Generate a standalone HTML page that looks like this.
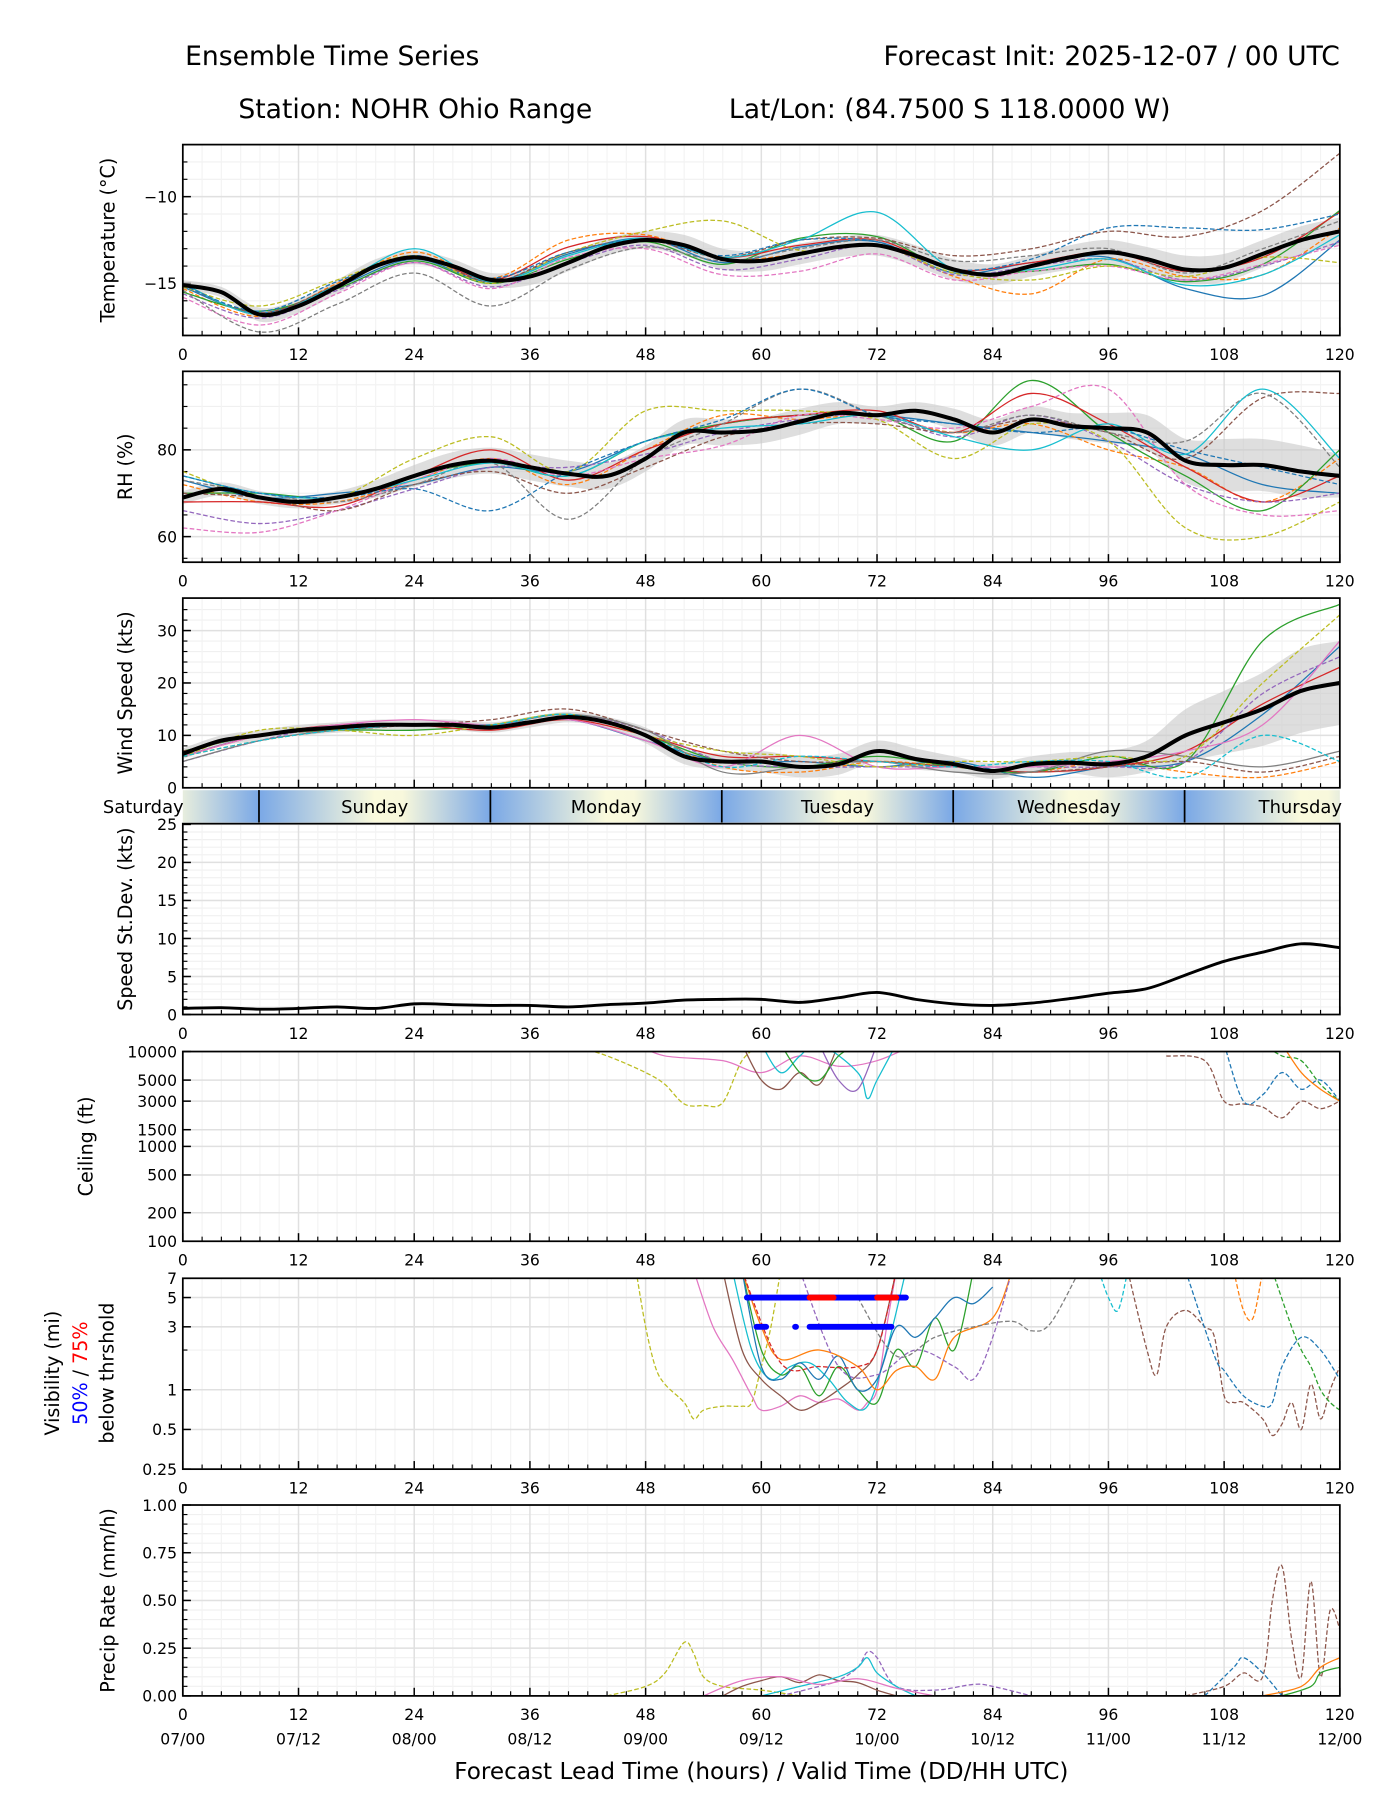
<!DOCTYPE html>
<html><head><meta charset="utf-8">
<style>
html,body{margin:0;padding:0;background:#fff;}
svg{display:block;font-family:"DejaVu Sans","Liberation Sans",sans-serif;}
</style></head>
<body>
<svg id="chart" xmlns="http://www.w3.org/2000/svg" width="1400" height="1800" viewBox="0 0 1210 1556" preserveAspectRatio="none">
<text x="160" y="56" font-size="23">Ensemble Time Series</text>
<text x="1158" y="56" font-size="23" text-anchor="end">Forecast Init: 2025-12-07 / 00 UTC</text>
<text x="206" y="102" font-size="23">Station: NOHR Ohio Range</text>
<text x="630" y="102" font-size="23">Lat/Lon: (84.7500 S 118.0000 W)</text>
<text x="658" y="1538" font-size="20" text-anchor="middle">Forecast Lead Time (hours) / Valid Time (DD/HH UTC)</text>
</svg>
<script>
// ---------- DATA ----------
const meanHours = [0,4,8,12,16,20,24,28,32,36,40,44,48,52,56,60,64,68,72,76,80,84,88,92,96,100,104,108,112,116,120];
const memHours = [0,8,16,24,32,40,48,56,64,72,80,88,96,104,112,120];

const tempMean = [-15.1,-15.5,-16.8,-16.3,-15.2,-14.0,-13.5,-14.0,-14.8,-14.6,-13.8,-12.9,-12.5,-12.8,-13.6,-13.7,-13.3,-12.9,-12.8,-13.4,-14.2,-14.5,-14.0,-13.5,-13.2,-13.6,-14.2,-14.1,-13.3,-12.5,-12.0];
const tempSpread = [0.3,0.3,0.4,0.4,0.4,0.4,0.4,0.4,0.4,0.5,0.5,0.5,0.5,0.6,0.6,0.6,0.6,0.6,0.6,0.6,0.6,0.6,0.6,0.7,0.7,0.7,0.8,0.8,0.8,0.8,0.8];
const tempM1 = [-15.2,-16.7,-15.2,-13.6,-14.9,-13.3,-12.4,-13.8,-12.9,-12.6,-14.4,-13.8,-13.5,-15.3,-15.7,-12.5];
const tempM2 = [-15.3,-16.9,-15.0,-13.2,-14.7,-12.5,-12.2,-13.6,-13.3,-12.8,-14.6,-15.6,-13.6,-14.6,-14.5,-11.8];
const tempM3 = [-15.5,-16.6,-15.3,-13.7,-15.0,-13.6,-12.6,-13.9,-12.4,-12.3,-14.3,-14.3,-13.9,-14.9,-13.9,-10.8];
const tempM4 = [-15.0,-16.8,-15.1,-13.4,-14.8,-12.9,-12.3,-13.5,-12.8,-12.5,-14.2,-13.8,-13.2,-14.3,-13.5,-10.9];
const tempM5 = [-15.6,-17.0,-15.4,-13.8,-15.2,-13.8,-12.8,-14.2,-13.6,-12.8,-14.5,-14.0,-13.6,-14.8,-14.0,-12.6];
const tempM6 = [-15.1,-16.7,-15.1,-13.4,-14.9,-13.2,-12.5,-13.5,-12.5,-12.4,-13.4,-13.0,-12.0,-12.3,-10.8,-7.5];
const tempM7 = [-15.8,-17.4,-15.6,-13.8,-15.3,-13.5,-13.0,-14.5,-14.3,-13.3,-14.8,-14.3,-14.0,-14.8,-13.9,-12.8];
const tempM8 = [-15.4,-17.8,-16.2,-14.4,-16.3,-14.2,-12.9,-13.7,-13.0,-12.5,-13.7,-13.4,-13.0,-14.4,-13.0,-11.4];
const tempM9 = [-15.2,-16.3,-14.8,-13.4,-15.0,-13.2,-12.0,-11.4,-13.1,-12.8,-14.4,-14.8,-14.0,-14.6,-13.5,-13.8];
const tempM10 = [-15.0,-16.8,-15.1,-13.0,-14.9,-13.4,-12.4,-13.5,-12.5,-10.9,-14.2,-14.2,-13.6,-15.1,-14.5,-12.2];
const tempM11 = [-15.1,-16.6,-14.9,-13.4,-14.7,-13.2,-12.5,-13.4,-12.5,-12.6,-14.2,-13.6,-11.8,-11.8,-11.9,-11.0];

const rhMean = [69,71,69,68,69,71,74,76.5,77.5,76,74.5,74,78,84,84,84.5,86.5,88.5,88,89,87,84,87,85.5,85,84,77.5,76.5,76.5,75,74];
const rhSpread = [1.5,1.5,1.5,1.5,1.5,2,2.5,3,3,3,3,3,3,3,3,3,3,2.5,2,2,2.5,3,3,3,3.5,4,5,6,6,6,5];
const rhM1 = [73,69,70,72,76,75,82,86,88,88,86,84,82,79,72,70];
const rhM2 = [72,68,68,73,78,72,80,88,87,88,84,86,80,76,68,78];
const rhM3 = [70,70,69,74,77,74,82,86,88,88,82,96,84,74,66,80];
const rhM4 = [68,68,67,74,80,73,80,86,88,89,84,93,86,76,68,74];
const rhM5 = [66,63,66,71,76,76,79,84,87,88,83,88,82,72,68,70];
const rhM6 = [70,69,66,72,75,70,76,83,86,86,84,87,84,78,92,93];
const rhM7 = [62,61,66,73,78,74,78,81,88,87,85,90,94,72,65,66];
const rhM8 = [73,70,68,72,77,64,78,86,94,88,84,88,84,82,93,76];
const rhM9 = [75,69,69,78,83,75,89,89,89,87,78,86,82,62,60,68];
const rhM10 = [74,70,69,73,77,74,82,85,86,88,83,80,86,79,94,78];
const rhM11 = [74,70,69,71,66,75,82,87,94,88,86,84,85,80,76,72];

const windMean = [6.5,9,10,11,11.5,12,12,12,11.5,12.5,13.5,12.5,10,6,5,5,4,4.5,7,5.5,4.5,3.2,4.5,4.8,4.5,6,10,12.5,15,18.5,20];
const windSpread = [1,1,1,1,1,1,1,1,1,1,1,1,1.5,1.5,1.5,2,2,2,2,2,1.5,1.5,1.5,2,2.5,3,5,6,7,8,8];
const windM1 = [6,10,11,12,12,13,9,5,5,4,5,2,4,5,14,27];
const windM2 = [6,9,11,12,12,14,10,4,3,5,4,3,5,3,2,5];
const windM3 = [7,10,11,11,12,14,10,5,4,6,4,3,6,5,28,35];
const windM4 = [6,10,12,12,11,13,10,6,6,5,4,3,4,7,16,23];
const windM5 = [5,9,12,12,12,14,11,5,4,4,4,4,4,5,18,25];
const windM6 = [7,10,11,12,13,15,11,7,5,5,4,3,4,5,3,6];
const windM7 = [6,10,12,13,12,13,9,4,10,4,4,4,5,7,12,28];
const windM8 = [5,9,11,12,12,14,11,3,4,5,3,3,7,6,4,7];
const windM9 = [6,11,11,10,12,14,10,7,6,4,5,5,6,6,20,33];
const windM10 = [6,9,11,12,12,14,10,4,6,5,4,5,5,2,10,5];

const sdValues = [0.8,0.9,0.7,0.8,1.0,0.8,1.4,1.3,1.2,1.2,1.0,1.3,1.5,1.9,2.0,2.0,1.6,2.2,2.9,2.0,1.4,1.2,1.5,2.1,2.8,3.4,5.2,7.0,8.2,9.3,8.8];

const ceilC1H=[40,44,48,50,52,54,56,58,60], ceilC1V=[12000,9000,6000,4500,2800,2700,2900,8000,12000];
const ceilC2H=[47,50,56,60,64,68,72,76], ceilC2V=[12000,9000,8000,6000,9000,7000,8000,12000];
const ceilC3H=[58,60,62,64,66,68], ceilC3V=[12000,5000,4000,6000,4500,12000];
const ceilC4H=[60,62,64,66,70,71,72,74], ceilC4V=[12000,6000,9000,12000,6000,3200,5000,12000];
const ceilC5H=[62,64,66,68,70], ceilC5V=[12000,6000,5000,9000,12000];
const ceilC6H=[66,68,70,72], ceilC6V=[12000,5000,4000,12000];
const ceilC7H=[102,106,108,110,112,114,116,118,120], ceilC7V=[9000,8000,3000,2800,2600,2000,3000,2500,3000];
const ceilC8H=[108,110,112,114,116,118,120], ceilC8V=[12000,3000,3500,6000,4000,5000,3000];
const ceilC9H=[112,114,116,118,120], ceilC9V=[12000,9000,8000,4500,3000];
const ceilC10H=[114,116,118,120], ceilC10V=[12000,6000,4000,3000];

const visV1H=[47,48,49,50,52,53,54,56,58,59,60,61,62], visV1V=[8,3,1.5,1.1,0.8,0.6,0.7,0.75,0.75,0.8,1.5,3,8];
const visV2H=[53,55,57,59,60,62,64,66,68,70,71,72,73,74], visV2V=[8,3,1.7,0.9,0.7,0.75,0.9,0.8,0.85,0.7,0.8,1,3,8];
const visV3H=[56,58,60,62,64,66,68,70,72,74], visV3V=[8,2,1.2,0.9,0.7,0.8,1,1.3,2,8];
const visV4H=[57,59,61,63,65,67,69,71,73,75], visV4V=[8,2,1.2,1.5,1.6,1.2,0.8,0.75,2,8];
const visV5H=[58,60,62,64,66,68,70,72,74,76,78,80,82], visV5V=[8,2,1.3,1.5,0.9,1.5,1,0.8,2,1.5,3.5,2,8];
const visV6H=[58,60,62,64,66,68,70,72,74,76,78,80,82,84], visV6V=[8,1.5,1.2,1.6,1.2,1.8,1,1.2,3,2.5,3.5,5,4.5,6];
const visV7H=[58,60,62,66,70,72,74,76,78,80,84,86], visV7V=[8,3,1.7,2,1.5,1,1.4,1.5,1.2,2.5,3.5,8];
const visV8H=[64,68,72,76,80,82,84,86], visV8V=[8,1.5,1.3,2,1.5,1.2,2.5,8];
const visV9H=[70,74,78,82,86,88,90,93], visV9V=[5,1.8,2.5,3,3.3,2.8,3.2,8];
const visV10H=[58,62,66,70,72,74], visV10V=[8,1.6,1.5,1.5,2,8];
const visV11H=[98,100,101,102,104,106,107,108,109,110,112,113,114,115,116,117,118,119,120], visV11V=[8,2,1.3,3,4,3,2.5,0.9,0.8,0.8,0.6,0.45,0.55,0.8,0.5,1.1,0.6,1,1.5];
const visV12H=[104,107,108,110,112,113,114,116,118,120], visV12V=[8,1.8,1.4,0.9,0.75,0.8,1.5,2.5,2,1.2];
const visV13H=[95,96,97,98], visV13V=[8,5,4,8];
const visV14H=[109,110,111,112], visV14V=[8,4,3.5,8];
const visV15H=[113,115,116,117,118,119,120], visV15V=[8,3,2,1.5,1,0.8,0.7];
const thr5Blue = [[58.5,75]];
const thr5Red = [[65,67.5],[72,74]];
const thr3Blue = [[59.5,60.5],[63.5,63.6],[65,73.5]];

const prP1H=[44,48,50,52,53,54,56,60,64], prP1V=[0,0.05,0.12,0.28,0.22,0.1,0.05,0.03,0];
const prP2H=[56,58,60,62,64,66,68,70,72,74], prP2V=[0,0.05,0.08,0.1,0.07,0.11,0.08,0.07,0.03,0];
const prP3H=[62,66,68,70,71,72,74,78,82,84,88], prP3V=[0,0.05,0.08,0.15,0.23,0.2,0.05,0.03,0.06,0.05,0];
const prP4H=[60,64,68,70,71,72,74,76], prP4V=[0,0.05,0.1,0.15,0.2,0.12,0.05,0];
const prP5H=[54,58,62,66,70,74,78], prP5V=[0,0.08,0.1,0.06,0.09,0.04,0];
const prP6H=[104,108,110,112,113,114,115,116,117,118,119,120], prP6V=[0,0.05,0.12,0.1,0.5,0.68,0.3,0.1,0.6,0.1,0.45,0.35];
const prP7H=[106,109,110,112,114], prP7V=[0,0.15,0.2,0.12,0];
const prP8H=[114,117,118,120], prP8V=[0,0.05,0.12,0.15];
const prP9H=[112,116,118,120], prP9V=[0,0.05,0.15,0.2];

const dayNames = ["Saturday","Sunday","Monday","Tuesday","Wednesday","Thursday"];
const daySepHours = [7.9,31.9,55.9,79.9,103.9];
const xTickHours = [0,12,24,36,48,60,72,84,96,108,120];
const validLabels = ["07/00","07/12","08/00","08/12","09/00","09/12","10/00","10/12","11/00","11/12","12/00"];

// ---------- DRAWING ----------
const NS="http://www.w3.org/2000/svg";
const svg=document.getElementById('chart');
const X0=158,X1=1158;
const xs=h=>X0+h/120*(X1-X0);
const C=["#1f77b4","#ff7f0e","#2ca02c","#d62728","#9467bd","#8c564b","#e377c2","#7f7f7f","#bcbd22","#17becf"];
function mk(tag,attrs,parent){const e=document.createElementNS(NS,tag);for(const k in attrs)e.setAttribute(k,attrs[k]);(parent||svg).appendChild(e);return e;}
function smooth(pts){if(pts.length<2)return"";let d="M"+pts[0][0].toFixed(1)+","+pts[0][1].toFixed(1);
 for(let i=0;i<pts.length-1;i++){const p0=pts[i-1]||pts[i],p1=pts[i],p2=pts[i+1],p3=pts[i+2]||p2;
 const c1=[p1[0]+(p2[0]-p0[0])/6,p1[1]+(p2[1]-p0[1])/6],c2=[p2[0]-(p3[0]-p1[0])/6,p2[1]-(p3[1]-p1[1])/6];
 d+="C"+c1[0].toFixed(1)+","+c1[1].toFixed(1)+" "+c2[0].toFixed(1)+","+c2[1].toFixed(1)+" "+p2[0].toFixed(1)+","+p2[1].toFixed(1);}return d;}

let clipId=0;
function panel(o){
 const g=mk('g',{});
 
 
 const ys=o.log?(v=>o.bot-(Math.log10(v)-Math.log10(o.min))/(Math.log10(o.max)-Math.log10(o.min))*(o.bot-o.top)):(v=>o.bot-(v-o.min)/(o.max-o.min)*(o.bot-o.top));
 (o.minor||[]).forEach(v=>{const l=mk('line',{x1:X0,x2:X1,y1:ys(v),y2:ys(v),stroke:"#f0f0f0","stroke-width":1},g);
  
  const t=mk('line',{x1:X0,x2:X0+4,y1:ys(v),y2:ys(v),stroke:"#000","stroke-width":1},g);
  });
 for(let h=0;h<=120;h+=2){ if(h%12){const l=mk('line',{x1:xs(h),x2:xs(h),y1:o.top,y2:o.bot,stroke:"#f3f3f3","stroke-width":1},g);
  
  const t=mk('line',{x1:xs(h),x2:xs(h),y1:o.bot-4,y2:o.bot,stroke:"#000","stroke-width":1},g);
  }}
 xTickHours.forEach(h=>{const l=mk('line',{x1:xs(h),x2:xs(h),y1:o.top,y2:o.bot,stroke:"#e0e0e0","stroke-width":1.3},g);
  
  const t=mk('line',{x1:xs(h),x2:xs(h),y1:o.bot-7,y2:o.bot,stroke:"#000","stroke-width":1.3},g);
  
  if(!o.noXLabels){const tx=mk('text',{x:xs(h),y:o.bot+21,"font-size":13.5,"text-anchor":"middle"},g);tx.textContent=h;
  }});
 o.ticks.forEach((v,i)=>{const l=mk('line',{x1:X0,x2:X1,y1:ys(v),y2:ys(v),stroke:"#e0e0e0","stroke-width":1.3},g);
  
  const t=mk('line',{x1:X0,x2:X0+7,y1:ys(v),y2:ys(v),stroke:"#000","stroke-width":1.3},g);
  
  const tx=mk('text',{x:X0-5,y:ys(v)+5,"font-size":13.5,"text-anchor":"end"},g);tx.textContent=o.labels[i];
  });
 const cid='clip'+(clipId++);
 const cp=mk('clipPath',{id:cid},g);mk('rect',{x:X0,y:o.top,width:X1-X0,height:o.bot-o.top},cp);
 const plot=mk('g',{"clip-path":"url(#"+cid+")"},g);
 
 if(o.mean && o.spread){const up=meanHours.map((h,i)=>[xs(h),ys(o.mean[i]+o.spread[i])]),dn=meanHours.map((h,i)=>[xs(h),ys(o.mean[i]-o.spread[i])]).reverse();
  const b=mk('path',{d:smooth(up)+"L"+smooth(dn).slice(1)+"Z",fill:"#c8c8c8","fill-opacity":0.6},plot);
  }
 (o.members||[]).forEach((m,i)=>{const pts=m.h.map((h,j)=>[xs(h),ys(m.v[j])]);
  const p=mk('path',{d:smooth(pts),fill:"none",stroke:C[m.c],"stroke-width":1.1,"stroke-dasharray":m.d?"4,2":"none"},plot);
  });
 if(o.mean){const pts=meanHours.map((h,i)=>[xs(h),ys(o.mean[i])]);
  const p=mk('path',{d:smooth(pts),fill:"none",stroke:"#000","stroke-width":o.meanW||3.5},plot);
  }
 if(o.after)o.after(plot,ys);
 const fr=mk('rect',{x:X0,y:o.top,width:X1-X0,height:o.bot-o.top,fill:"none",stroke:"#000","stroke-width":1.5},g);
 
 if(o.title){const cy=(o.top+o.bot)/2;const tx=mk('text',{x:0,y:0,"font-size":16.5,"text-anchor":"middle",transform:"translate("+o.tx+","+cy+") rotate(-90)"},g);tx.textContent=o.title;
  }
 return g;}
function mem(h,v,c,d){return{h:h,v:v,c:c,d:d};}
function range(a,b,s){const r=[];for(let v=a;v<=b+1e-9;v+=s)r.push(+v.toFixed(3));return r;}

panel({name:"temperature",top:125,bot:290,min:-18,max:-7,ticks:[-15,-10],labels:["\u221215","\u221210"],minor:range(-18,-7,1),
 mean:tempMean,spread:tempSpread,title:"Temperature (\u00b0C)",tx:99,
 members:[mem(memHours,tempM1,0),mem(memHours,tempM2,1,1),mem(memHours,tempM3,2),mem(memHours,tempM4,3),mem(memHours,tempM5,4,1),mem(memHours,tempM6,5,1),mem(memHours,tempM7,6,1),mem(memHours,tempM8,7,1),mem(memHours,tempM9,8,1),mem(memHours,tempM10,9),mem(memHours,tempM11,0,1)]});
panel({name:"rh",top:321,bot:486,min:54.1,max:98.1,ticks:[60,80],labels:["60","80"],minor:range(55,95,5),
 mean:rhMean,spread:rhSpread,title:"RH (%)",tx:114,
 members:[mem(memHours,rhM1,0),mem(memHours,rhM2,1,1),mem(memHours,rhM3,2),mem(memHours,rhM4,3),mem(memHours,rhM5,4,1),mem(memHours,rhM6,5,1),mem(memHours,rhM7,6,1),mem(memHours,rhM8,7,1),mem(memHours,rhM9,8,1),mem(memHours,rhM10,9),mem(memHours,rhM11,0,1)]});
panel({name:"wind-speed",top:517,bot:681,min:0,max:36.2,ticks:[0,10,20,30],labels:["0","10","20","30"],minor:range(2,34,2),noXLabels:true,
 mean:windMean,spread:windSpread,title:"Wind Speed (kts)",tx:114,
 members:[mem(memHours,windM1,0),mem(memHours,windM2,1,1),mem(memHours,windM3,2),mem(memHours,windM4,3),mem(memHours,windM5,4,1),mem(memHours,windM6,5,1),mem(memHours,windM7,6),mem(memHours,windM8,7),mem(memHours,windM9,8,1),mem(memHours,windM10,9,1)]});
panel({name:"speed-stdev",top:712,bot:877,min:0,max:25.1,ticks:[0,5,10,15,20,25],labels:["0","5","10","15","20","25"],minor:range(1,24,1),
 mean:sdValues,meanW:2.5,title:"Speed St.Dev. (kts)",tx:114});
panel({name:"ceiling",top:909,bot:1073,min:100,max:10000,log:true,ticks:[100,200,500,1000,1500,3000,5000,10000],labels:["100","200","500","1000","1500","3000","5000","10000"],
 title:"Ceiling (ft)",tx:80,
 members:[mem(ceilC1H,ceilC1V,8,1),mem(ceilC2H,ceilC2V,6),mem(ceilC3H,ceilC3V,5),mem(ceilC4H,ceilC4V,9),mem(ceilC5H,ceilC5V,2),mem(ceilC6H,ceilC6V,4),mem(ceilC7H,ceilC7V,5,1),mem(ceilC8H,ceilC8V,0,1),mem(ceilC9H,ceilC9V,2,1),mem(ceilC10H,ceilC10V,1)]});
panel({name:"visibility",top:1105,bot:1270,min:0.25,max:7,log:true,ticks:[0.25,0.5,1,3,5,7],labels:["0.25","0.5","1","3","5","7"],minor:[2],
 members:[mem(visV1H,visV1V,8,1),mem(visV2H,visV2V,6),mem(visV3H,visV3V,5),mem(visV4H,visV4V,9),mem(visV5H,visV5V,2),mem(visV6H,visV6V,0),mem(visV7H,visV7V,1),mem(visV8H,visV8V,4,1),mem(visV9H,visV9V,7,1),mem(visV10H,visV10V,3,1),mem(visV11H,visV11V,5,1),mem(visV12H,visV12V,0,1),mem(visV13H,visV13V,9,1),mem(visV14H,visV14V,1,1),mem(visV15H,visV15V,2,1)],
 after:function(plot,ys){
  thr5Blue.forEach(s=>{const l=mk('line',{x1:xs(s[0]),x2:xs(s[1]),y1:ys(5),y2:ys(5),stroke:"#0000ff","stroke-width":5,"stroke-linecap":"round"},plot);
   });
  thr5Red.forEach(s=>{const l=mk('line',{x1:xs(s[0]),x2:xs(s[1]),y1:ys(5),y2:ys(5),stroke:"#ff0000","stroke-width":5,"stroke-linecap":"round"},plot);
   });
  thr3Blue.forEach(s=>{const l=mk('line',{x1:xs(s[0]),x2:xs(s[1]),y1:ys(3),y2:ys(3),stroke:"#0000ff","stroke-width":5,"stroke-linecap":"round"},plot);
   });
 }});
panel({name:"precip-rate",top:1301,bot:1466,min:0,max:1,ticks:[0,0.25,0.5,0.75,1],labels:["0.00","0.25","0.50","0.75","1.00"],minor:range(0.05,0.95,0.05),
 title:"Precip Rate (mm/h)",tx:99,
 members:[mem(prP1H,prP1V,8,1),mem(prP2H,prP2V,5),mem(prP3H,prP3V,4,1),mem(prP4H,prP4V,9),mem(prP5H,prP5V,6),mem(prP6H,prP6V,5,1),mem(prP7H,prP7V,0,1),mem(prP8H,prP8V,2),mem(prP9H,prP9V,1)]});

(function(){const cy=1187;
 const t1=mk('text',{x:0,y:0,"font-size":16.5,"text-anchor":"middle",transform:"translate(51,"+cy+") rotate(-90)"});t1.textContent="Visibility (mi)";
 
 const t2=mk('text',{x:0,y:0,"font-size":16.5,"text-anchor":"middle",transform:"translate(75,"+cy+") rotate(-90)"});
 
 const a=mk('tspan',{fill:"#0000ff"},t2);a.textContent="50%";const b=mk('tspan',{},t2);b.textContent=" / ";const c=mk('tspan',{fill:"#ff0000"},t2);c.textContent="75%";
 const t3=mk('text',{x:0,y:0,"font-size":16.5,"text-anchor":"middle",transform:"translate(98,"+cy+") rotate(-90)"});t3.textContent="below thrshold";
 })();

validLabels.forEach((s,i)=>{const t=mk('text',{x:xs(xTickHours[i]),y:1508,"font-size":13.5,"text-anchor":"middle"});t.textContent=s;
 });

(function(){const top=683,bot=711;const defs=mk('defs',{});
 const gr=mk('linearGradient',{id:"dayGrad",x1:0,x2:1,y1:0,y2:0},defs);
 [[0,"#7aa8e6"],[0.5,"#fafadc"],[0.62,"#f8f8dc"],[1,"#7aa8e6"]].forEach(s=>mk('stop',{offset:s[0],"stop-color":s[1]},gr));
 const bar=mk('g',{});
 const bounds=[-16.1].concat(daySepHours).concat([127.9]);
 const cp=mk('clipPath',{id:"dayclip"},defs);mk('rect',{x:X0,y:top,width:X1-X0,height:bot-top},cp);
 const inner=mk('g',{"clip-path":"url(#dayclip)"},bar);
 for(let i=0;i<bounds.length-1;i++){const r=mk('rect',{x:xs(bounds[i]),y:top,width:xs(bounds[i+1])-xs(bounds[i]),height:bot-top,fill:"url(#dayGrad)"},inner);
  }
 daySepHours.forEach(h=>{const l=mk('line',{x1:xs(h),x2:xs(h),y1:top,y2:bot,stroke:"#000","stroke-width":1.5},bar);
  });
 dayNames.forEach((n,i)=>{const c=(bounds[i]+bounds[i+1])/2;const t=mk('text',{x:xs(c),y:top+20,"font-size":15.5,"text-anchor":"middle"},bar);t.textContent=n;
  });
})();
</script>
</body></html>
